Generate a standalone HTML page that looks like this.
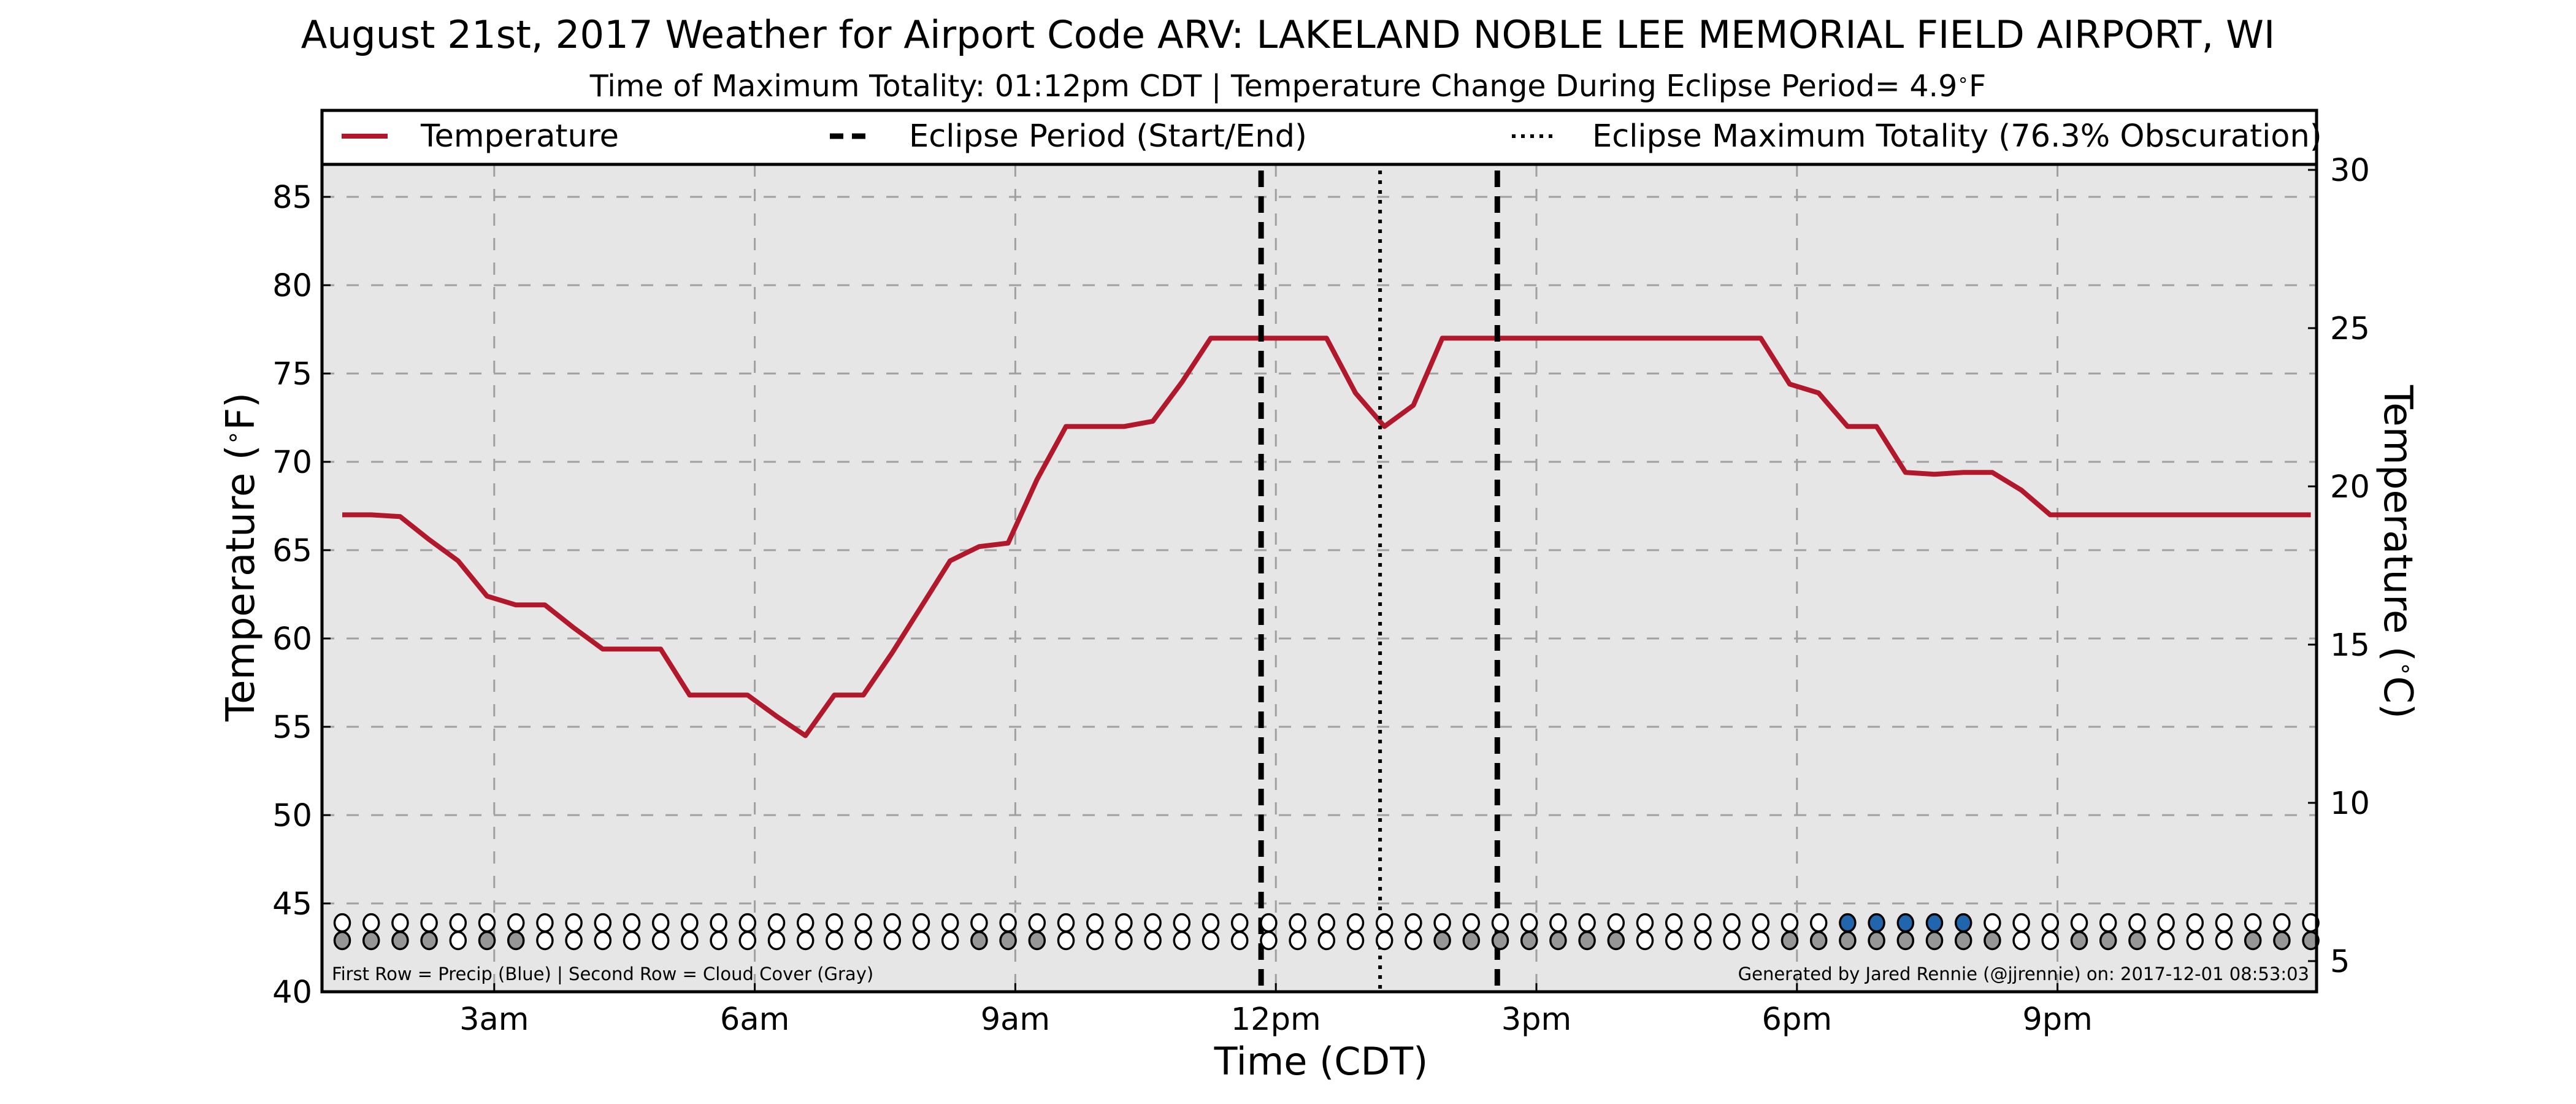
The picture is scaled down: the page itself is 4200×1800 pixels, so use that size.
<!DOCTYPE html>
<html><head><meta charset="utf-8"><style>
html,body{margin:0;padding:0;background:#fff;}
svg{display:block;font-family:"DejaVu Sans","Liberation Sans",sans-serif;}
</style></head><body>
<svg id="chart" width="4200" height="1800" viewBox="0 0 4200 1800" xmlns="http://www.w3.org/2000/svg">
<rect x="0" y="0" width="4200" height="1800" fill="#fff"/>
<text x="2100" y="78" text-anchor="middle" font-size="62.5">August 21st, 2017 Weather for Airport Code ARV: LAKELAND NOBLE LEE MEMORIAL FIELD AIRPORT, WI</text>
<text x="2100" y="157" text-anchor="middle" font-size="49">Time of Maximum Totality: 01:12pm CDT | Temperature Change During Eclipse Period= 4.9<tspan baseline-shift="super" font-size="30">∘</tspan>F</text>
<rect x="525" y="268" width="3252" height="1349" fill="#e6e6e6"/>
<g id="grid"></g>
<g id="marks"></g>
<rect x="525" y="180" width="3252" height="1437" fill="none" stroke="#000" stroke-width="5"/>
<g>
<rect x="525" y="180" width="3252" height="88" fill="#fff" stroke="#000" stroke-width="5"/>
<line x1="557" y1="222" x2="632" y2="222" stroke="#b2182b" stroke-width="8"/>
<text x="686" y="239" font-size="51">Temperature</text>
<line x1="1353" y1="222" x2="1420" y2="222" stroke="#000" stroke-width="9" stroke-dasharray="22,14"/>
<text x="1482" y="239" font-size="51">Eclipse Period (Start/End)</text>
<line x1="2465" y1="222" x2="2540" y2="222" stroke="#000" stroke-width="6" stroke-dasharray="6,9"/>
<text x="2596" y="239" font-size="51">Eclipse Maximum Totality (76.3% Obscuration)</text>
</g>
<text x="541" y="1598" font-size="29">First Row = Precip (Blue) | Second Row = Cloud Cover (Gray)</text>
<text x="3765" y="1598" text-anchor="end" font-size="29">Generated by Jared Rennie (@jjrennie) on: 2017-12-01 08:53:03</text>
<text transform="translate(414,908) rotate(-90)" text-anchor="middle" font-size="64">Temperature (<tspan baseline-shift="super" font-size="38">∘</tspan>F)</text>
<text transform="translate(3888,900) rotate(90)" text-anchor="middle" font-size="64">Temperature (<tspan baseline-shift="super" font-size="38">∘</tspan>C)</text>
<text x="2154" y="1752" text-anchor="middle" font-size="62">Time (CDT)</text>
<g id="axes"></g>
</svg>
<script>
const temps = [67.0,67.0,66.9,65.6,64.4,62.4,61.9,61.9,60.6,59.4,59.4,59.4,56.8,56.8,56.8,55.6,54.5,56.8,56.8,59.2,61.8,64.4,65.2,65.4,69.0,72.0,72.0,72.0,72.3,74.5,77,77,77,77,77,73.9,72.0,73.2,77,77,77,77,77,77,77,77,77,77,77,77,74.4,73.9,72,72,69.4,69.3,69.4,69.4,68.4,67,67,67,67,67,67,67,67,67,67];
const startHour = 1.25;
const stepHour = 1/3;
const precip = [0,0,0,0,0,0,0,0,0,0,0,0,0,0,0,0,0,0,0,0,0,0,0,0,0,0,0,0,0,0,0,0,0,0,0,0,0,0,0,0,0,0,0,0,0,0,0,0,0,0,0,0,1,1,1,1,1,0,0,0,0,0,0,0,0,0,0,0,0];
const clouds = [1,1,1,1,0,1,1,0,0,0,0,0,0,0,0,0,0,0,0,0,0,0,1,1,1,0,0,0,0,0,0,0,0,0,0,0,0,0,1,1,1,1,1,1,1,0,0,0,0,0,1,1,1,1,1,1,1,1,0,0,1,1,1,0,0,0,1,1,1];
const eclipseStart = 11.83;
const eclipseMax = 13.2;
const eclipseEnd = 14.55;
const fTicks = [40,45,50,55,60,65,70,75,80,85];
const cTicks = [5,10,15,20,25,30];
const xTickHours = [3,6,9,12,15,18,21];
const xTickLabels = ["3am","6am","9am","12pm","3pm","6pm","9pm"];

const NS="http://www.w3.org/2000/svg";
const X0=525,X1=3777,Y0=268,Y1=1617;
function xs(h){return 381+141.6*h;}
function yF(f){return 1617-(f-40)*28.8;}
function yC(c){return 1567-(c-5)*51.6;}
function mk(tag,attrs,parent){const e=document.createElementNS(NS,tag);for(const k in attrs)e.setAttribute(k,attrs[k]);parent.appendChild(e);return e;}
const grid=document.getElementById('grid'),marks=document.getElementById('marks'),axes=document.getElementById('axes');

fTicks.forEach(f=>{
  const y=yF(f);
  if(f>40){const g=mk('line',{x1:X0,x2:X1,y1:y,y2:y,stroke:'#a0a0a0','stroke-width':3,'stroke-dasharray':'20,20'},grid);
  
  }
  const t=mk('line',{x1:X0,x2:X0+14,y1:y,y2:y,stroke:'#000','stroke-width':3},axes);
  
  
  const l=mk('text',{x:509,y:y+18,'text-anchor':'end','font-size':51},axes);
  
  
  l.textContent=f;
});
cTicks.forEach(c=>{
  const y=yC(c);
  const t=mk('line',{x1:X1-14,x2:X1,y1:y,y2:y,stroke:'#000','stroke-width':3},axes);
  
  
  const l=mk('text',{x:3799,y:y+18,'font-size':51},axes);
  
  
  l.textContent=c;
});
xTickHours.forEach((h,i)=>{
  const x=xs(h);
  const g=mk('line',{x1:x,x2:x,y1:Y0,y2:Y1,stroke:'#a0a0a0','stroke-width':3,'stroke-dasharray':'20,20'},grid);
  
  
  const t=mk('line',{x1:x,x2:x,y1:Y1-14,y2:Y1,stroke:'#000','stroke-width':3},axes);
  
  
  const l=mk('text',{x:x,y:1679,'text-anchor':'middle','font-size':51},axes);
  
  
  l.textContent=xTickLabels[i];
});

const pts=temps.map((t,i)=>xs(startHour+i*stepHour).toFixed(1)+','+yF(t).toFixed(1)).join(' ');
const line=mk('polyline',{points:pts,fill:'none',stroke:'#b2182b','stroke-width':8,'stroke-linejoin':'round'},marks);



[[eclipseStart,'eclipse-start-line'],[eclipseEnd,'eclipse-end-line']].forEach(([h,n])=>{
  const e=mk('line',{x1:xs(h),x2:xs(h),y1:Y0+10,y2:Y1,stroke:'#000','stroke-width':9,'stroke-dasharray':'27,15'},marks);
  
  
});
const m=mk('line',{x1:xs(eclipseMax),x2:xs(eclipseMax),y1:Y0+10,y2:Y1,stroke:'#000','stroke-width':6,'stroke-dasharray':'6,10'},marks);



precip.forEach((p,i)=>{
  const c=mk('ellipse',{cx:xs(startHour+i*stepHour),cy:yF(43.9),rx:12.5,ry:14,fill:p?'#2166ac':'#fff',stroke:'#000','stroke-width':3.5},marks);
  
  
});
clouds.forEach((p,i)=>{
  const c=mk('ellipse',{cx:xs(startHour+i*stepHour),cy:yF(42.9),rx:12.5,ry:14,fill:p?'#969696':'#fff',stroke:'#000','stroke-width':3.5},marks);
  
  
});
</script>
</body></html>
